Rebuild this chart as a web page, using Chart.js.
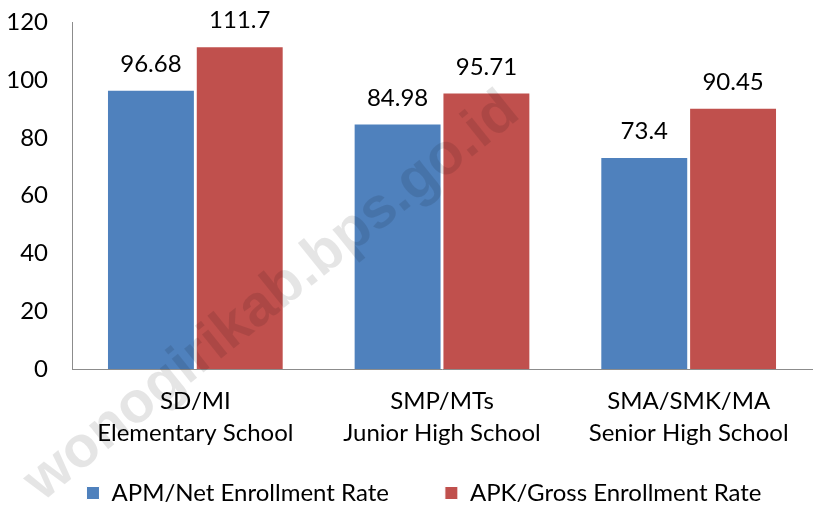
<!DOCTYPE html>
<html><head><meta charset="utf-8">
<script src="https://cdn.jsdelivr.net/npm/chart.js@4.4.1/dist/chart.umd.min.js"></script>
<style>html,body{margin:0;padding:0;background:#fff}#wrap{width:813px;height:508px;position:relative}</style>
</head><body><div id="wrap"><canvas id="c"></canvas></div>
<script>
const categories = [["SD/MI","Elementary School"],["SMP/MTs","Junior High School"],["SMA/SMK/MA","Senior High School"]];
const seriesNames = ["APM/Net Enrollment Rate","APK/Gross Enrollment Rate"];
const apmValues = [96.68, 84.98, 73.4];
const apkValues = [111.7, 95.71, 90.45];
const valueLabels = [["96.68","84.98","73.4"],["111.7","95.71","90.45"]];
const yTicks = [0,20,40,60,80,100,120];
const watermarkText = "wonogirikab.bps.go.id";

const FONT = "Lato, 'Open Sans', sans-serif";
const LEGEND_PAD = 56;

const labelPlugin = {
  id: 'valLabels',
  afterLayout(chart) {
    const l = chart.legend;
    if (l) {
      l.top = 493 - LEGEND_PAD - 12;
      l.bottom = chart.height;
      l.height = l.bottom - l.top;
      l.left += 18;
      l.right += 18;
    }
  },
  afterDatasetsDraw(chart) {
    const ctx = chart.ctx;
    ctx.save();
    ctx.font = "24px " + FONT;
    ctx.fillStyle = "#000";
    ctx.textAlign = "center";
    ctx.textBaseline = "alphabetic";
    chart.data.datasets.forEach((ds, i) => {
      chart.getDatasetMeta(i).data.forEach((bar, j) => {
        ctx.fillText(valueLabels[i][j], bar.x, bar.y - 18);
      });
    });
    ctx.restore();
  },
  afterDraw(chart) {
    const ctx = chart.ctx;
    ctx.save();
    ctx.translate(272, 297);
    ctx.rotate(-38.8 * Math.PI / 180);
    ctx.font = "bold 58px Arial, 'Liberation Sans', sans-serif";
    ctx.fillStyle = "rgba(0,0,0,0.10)";
    ctx.textAlign = "center";
    ctx.textBaseline = "middle";
    ctx.fillText(watermarkText, 0, 0);
    ctx.restore();
  }
};

new Chart(document.getElementById('c'), {
  type: 'bar',
  data: {
    labels: categories,
    datasets: [
      {label: seriesNames[0], data: apmValues, backgroundColor: '#4F81BD', borderColor: '#fff', borderWidth: 1, categoryPercentage: 0.72, barPercentage: 0.99},
      {label: seriesNames[1], data: apkValues, backgroundColor: '#C0504D', borderColor: '#fff', borderWidth: 1, categoryPercentage: 0.72, barPercentage: 0.99}
    ]
  },
  options: {
    responsive: true,
    maintainAspectRatio: false,
    animation: false,
    layout: {padding: {top: 0, right: 1, left: 0, bottom: 0}},
    plugins: {
      legend: {
        position: 'bottom',
        maxHeight: 58,
        labels: {font: {family: FONT, size: 24}, color: '#000', boxWidth: 13, boxHeight: 13, padding: LEGEND_PAD}
      },
      tooltip: {enabled: false}
    },
    scales: {
      x: {
        afterFit(s) { s.height = 81; },
        grid: {display: false, drawTicks: false},
        border: {display: true, color: '#8c8c8c', width: 1},
        ticks: {font: {family: FONT, size: 24, lineHeight: 1.35}, color: '#000', padding: 16, maxRotation: 0}
      },
      y: {
        min: 0, max: 120,
        afterBuildTicks(axis) { axis.ticks = yTicks.map(v => ({value: v})); },
        afterFit(s) { s.width = 72; },
        grid: {display: false, drawTicks: true, tickLength: 16, tickColor: 'rgba(0,0,0,0)'},
        border: {display: true, color: '#8c8c8c', width: 1},
        ticks: {font: {family: FONT, size: 24}, color: '#000', padding: 8}
      }
    }
  },
  plugins: [labelPlugin]
});
</script></body></html>
